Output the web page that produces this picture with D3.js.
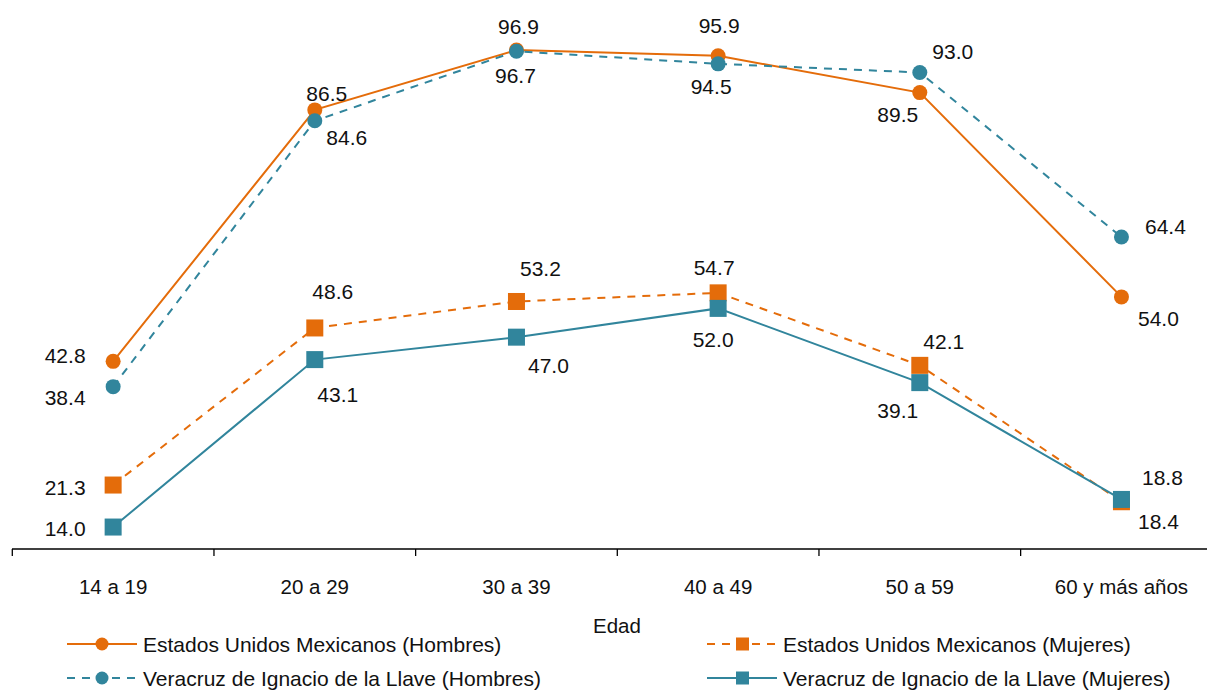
<!DOCTYPE html>
<html><head><meta charset="utf-8">
<script src="https://cdn.jsdelivr.net/npm/d3@7"></script>
<style>body{margin:0;background:#fff}svg{display:block;font-family:"Liberation Sans",Arial,sans-serif}</style>
</head><body><svg id="c" width="1207" height="690"></svg>
<script>
const categories = ["14 a 19","20 a 29","30 a 39","40 a 49","50 a 59","60 y más años"];
const eumHombres = [42.8,86.5,96.9,95.9,89.5,54.0];
const eumMujeres = [21.3,48.6,53.2,54.7,42.1,18.4];
const verHombres = [38.4,84.6,96.7,94.5,93.0,64.4];
const verMujeres = [14.0,43.1,47.0,52.0,39.1,18.8];
const seriesNames = ["Estados Unidos Mexicanos (Hombres)","Estados Unidos Mexicanos (Mujeres)","Veracruz de Ignacio de la Llave (Hombres)","Veracruz de Ignacio de la Llave (Mujeres)"];
const axisTitle = "Edad";

const ORANGE = "#E46C0A", TEAL = "#31859C";
const series = [
  {name: seriesNames[0], values: eumHombres, color: ORANGE, dash: null, shape: "circle"},
  {name: seriesNames[1], values: eumMujeres, color: ORANGE, dash: "8,7", shape: "square"},
  {name: seriesNames[2], values: verHombres, color: TEAL, dash: "8,7", shape: "circle"},
  {name: seriesNames[3], values: verMujeres, color: TEAL, dash: null, shape: "square"}
];
// label offsets [dx, dy] per series per point (relative to point)
const labelOffsets = [
  [[-48,-6],[12,-16],[2,-24],[1,-30],[-22,22],[37,22]],
  [[-48,2],[18,-36],[24,-33],[-4,-25],[24,-24],[37,20]],
  [[-48,11],[32,17],[-1,24],[-7,23],[33,-21],[44,-11]],
  [[-48,1],[23,35],[32,28],[-5,31],[-22,28],[41,-22]]
];

const svg = d3.select("#c");
const x = d3.scaleBand().domain(categories).range([12.3, 1222.3]);
const y = d3.scaleLinear().domain([0, 100]).range([607.6, 32.2]);
const axisY = 549;

svg.append("line").attr("x1", 12).attr("x2", 1207).attr("y1", axisY).attr("y2", axisY)
  .attr("stroke", "#000").attr("stroke-width", 1.5);
categories.forEach(c => svg.append("line").attr("x1", x(c)).attr("x2", x(c)).attr("y1", axisY).attr("y2", axisY + 7)
  .attr("stroke", "#000").attr("stroke-width", 1.3));
svg.append("g").selectAll("text").data(categories).join("text")
  .attr("x", d => x(d) + x.bandwidth() / 2).attr("y", 594)
  .attr("text-anchor", "middle").attr("font-size", 20.5).attr("fill", "#111").text(d => d);
svg.append("text").attr("x", 617).attr("y", 633).attr("text-anchor", "middle")
  .attr("font-size", 20.5).attr("fill", "#111").text(axisTitle);

const cx = c => x(c) + x.bandwidth() / 2;
const line = d3.line().x((d, i) => cx(categories[i])).y(d => y(d));

function marker(g, shape, color, px, py) {
  if (shape === "circle") g.append("circle").attr("cx", px).attr("cy", py).attr("r", 7.5).attr("fill", color);
  else g.append("rect").attr("x", px - 8.5).attr("y", py - 8.5).attr("width", 17).attr("height", 17).attr("fill", color);
}

const drawOrder = [1, 3, 0, 2];
drawOrder.forEach(si => {
  const s = series[si];
  svg.append("path").datum(s.values).attr("d", line).attr("fill", "none")
    .attr("stroke", s.color).attr("stroke-width", 2).attr("stroke-dasharray", s.dash);
});
drawOrder.forEach(si => {
  const s = series[si];
  const g = svg.append("g");
  s.values.forEach((v, i) => marker(g, s.shape, s.color, cx(categories[i]), y(v)));
});
series.forEach((s, si) => {
  svg.append("g").selectAll("text").data(s.values).join("text")
    .attr("x", (d, i) => cx(categories[i]) + labelOffsets[si][i][0])
    .attr("y", (d, i) => y(d) + labelOffsets[si][i][1] + 7.5)
    .attr("text-anchor", "middle").attr("font-size", 21).attr("fill", "#111")
    .text(d => d.toFixed(1));
});

// legend
const legPos = [[67, 644], [707, 644], [67, 678], [707, 678]];
series.forEach((s, si) => {
  const [lx, ly] = legPos[si];
  const g = svg.append("g");
  g.append("line").attr("x1", lx).attr("x2", lx + 70).attr("y1", ly).attr("y2", ly)
    .attr("stroke", s.color).attr("stroke-width", 2).attr("stroke-dasharray", s.dash ? "8,7" : null);
  if (s.shape === "circle") g.append("circle").attr("cx", lx + 35).attr("cy", ly).attr("r", 6.5).attr("fill", s.color);
  else g.append("rect").attr("x", lx + 29).attr("y", ly - 6.5).attr("width", 13).attr("height", 13).attr("fill", s.color);
  g.append("text").attr("x", lx + 76).attr("y", ly + 7.5).attr("font-size", 21).attr("fill", "#111").text(s.name);
});
</script></body></html>
